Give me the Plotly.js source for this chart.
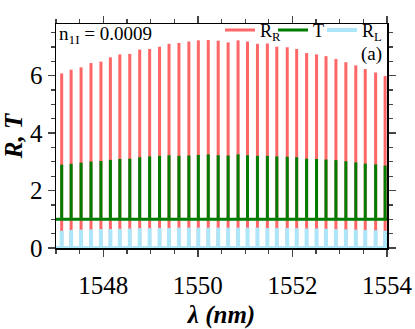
<!DOCTYPE html>
<html>
<head>
<meta charset="utf-8">
<script src="https://cdn.plot.ly/plotly-3.0.1.min.js"></script>
<style>
  html, body { margin: 0; padding: 0; background: #fff; }
  #chart { width: 415px; height: 329px; }
</style>
</head>
<body>
<div id="chart"></div>
<script>
// wavelength window (nm)
const lambdaStart = 1547;
const lambdaEnd = 1554;

// resonance positions (nm)
const peakLambda = [
  1547.12, 1547.32, 1547.53, 1547.74, 1547.95, 1548.15, 1548.35, 1548.56,
  1548.77, 1548.98, 1549.19, 1549.39, 1549.60, 1549.81, 1550.01, 1550.22,
  1550.43, 1550.64, 1550.85, 1551.05, 1551.26, 1551.47, 1551.67, 1551.89,
  1552.09, 1552.30, 1552.51, 1552.71, 1552.92, 1553.13, 1553.34, 1553.54,
  1553.76, 1553.96
];

// peak heights of each spectrum
const peakRR = [
  6.08, 6.21, 6.29, 6.44, 6.49, 6.64, 6.74, 6.76, 6.91, 6.93, 7.01, 7.11,
  7.14, 7.19, 7.23, 7.24, 7.22, 7.16, 7.23, 7.19, 7.11, 7.12, 7.01, 6.99,
  6.93, 6.79, 6.74, 6.68, 6.58, 6.47, 6.36, 6.23, 6.11, 5.99
];
const peakT = [
  2.90, 2.93, 2.97, 3.01, 3.03, 3.07, 3.10, 3.11, 3.16, 3.19, 3.21, 3.23,
  3.21, 3.22, 3.24, 3.26, 3.23, 3.22, 3.26, 3.23, 3.21, 3.21, 3.19, 3.18,
  3.16, 3.11, 3.10, 3.08, 3.06, 3.02, 2.98, 2.94, 2.91, 2.87
];
const peakRL = [
  0.60, 0.63, 0.64, 0.65, 0.66, 0.66, 0.67, 0.68, 0.69, 0.69, 0.70, 0.70,
  0.71, 0.71, 0.71, 0.71, 0.71, 0.71, 0.71, 0.71, 0.71, 0.70, 0.70, 0.70,
  0.69, 0.68, 0.68, 0.67, 0.66, 0.65, 0.64, 0.63, 0.62, 0.60
];

// off-resonance levels
const baseRR = 0;
const baseT = 1;
const baseRL = 0;

// build a spectrum as a flat background plus one vertical spike per resonance
function spectrum(base, peaks, withBase) {
  const x = [], y = [];
  if (withBase) {
    x.push(lambdaStart, lambdaEnd, null);
    y.push(base, base, null);
  }
  peakLambda.forEach((l, i) => {
    x.push(l, l, null);
    y.push(base, peaks[i], null);
  });
  return { x, y };
}

const sR = spectrum(baseRR, peakRR, false);
const sT = spectrum(baseT, peakT, true);
const sL = spectrum(baseRL, peakRL, true);

const serif = 'Liberation Serif';

const traces = [
  {
    x: sR.x, y: sR.y, mode: 'lines', name: 'R<sub>R</sub>',
    legendwidth: 8,
    line: { color: 'rgb(255,102,102)', width: 3 }
  },
  {
    x: sT.x, y: sT.y, mode: 'lines', name: 'T',
    legendwidth: 4,
    line: { color: 'rgb(0,125,0)', width: 3 }
  },
  {
    x: sL.x, y: sL.y, mode: 'lines', name: 'R<sub>L</sub>',
    line: { color: 'rgb(174,230,249)', width: 4 }
  }
];

const layout = {
  width: 415,
  height: 329,
  margin: { l: 56, r: 28, t: 14, b: 81 },
  paper_bgcolor: '#fff',
  plot_bgcolor: '#fff',
  font: { family: serif, size: 18, color: '#000' },
  showlegend: true,
  legend: {
    orientation: 'h',
    x: 1, xanchor: 'right',
    y: 1.055, yanchor: 'top',
    bgcolor: 'rgba(0,0,0,0)',
    font: { family: serif, size: 18 },
    itemwidth: 30,
    tracegroupgap: 0
  },
  xaxis: {
    range: [lambdaStart, lambdaEnd],
    tick0: 1548, dtick: 2,
    ticks: 'outside', ticklen: 7, tickwidth: 1.5,
    ticklabelstandoff: 7,
    minor: { dtick: 0.5, ticks: 'outside', ticklen: 4, tickwidth: 1.2, showgrid: false },
    showline: true, linewidth: 1.5, linecolor: '#000', mirror: 'allticks',
    showgrid: false, zeroline: false,
    tickfont: { family: serif, size: 25 },
    title: { text: '<b><i>λ (nm)</i></b>', font: { family: serif, size: 25 }, standoff: 10 }
  },
  yaxis: {
    range: [0, 7.8],
    tick0: 0, dtick: 2,
    ticks: 'outside', ticklen: 7, tickwidth: 1.5,
    minor: { dtick: 0.5, ticks: 'outside', ticklen: 4, tickwidth: 1.2, showgrid: false },
    showline: true, linewidth: 1.5, linecolor: '#000', mirror: 'allticks',
    showgrid: false, zeroline: false,
    tickfont: { family: serif, size: 25 },
    title: { text: '<b><i>R, T</i></b>', font: { family: serif, size: 25 }, standoff: 6 }
  },
  annotations: [
    {
      text: 'n<sub>1I</sub> = 0.0009',
      xref: 'paper', yref: 'paper', x: 0, y: 1,
      xanchor: 'left', yanchor: 'top', xshift: 1, yshift: 3,
      showarrow: false, font: { family: serif, size: 19 }
    },
    {
      text: '(a)',
      xref: 'paper', yref: 'paper', x: 1, y: 0.865,
      xanchor: 'right', yanchor: 'middle', xshift: -3,
      showarrow: false, font: { family: serif, size: 19 }
    }
  ]
};

Plotly.newPlot('chart', traces, layout, { displayModeBar: false, staticPlot: true });
</script>
</body>
</html>
